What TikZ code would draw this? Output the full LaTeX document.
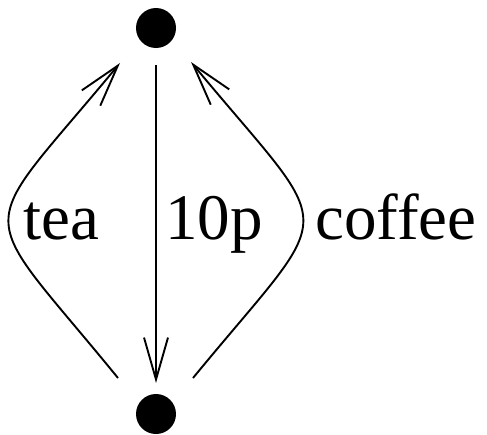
\documentclass[tikz,border=0pt]{standalone}
\usepackage{fontspec}
\setmainfont{Liberation Serif}
\usetikzlibrary{arrows.meta}
\begin{document}
\begin{tikzpicture}[x=1pt,y=-1pt,
  dot/.style={circle,fill=black,minimum size=40pt,inner sep=0pt},
  edge/.style={line width=1.9pt,-{Straight Barb[length=42pt,width=24pt,line width=1.9pt]}},
  lbl/.style={anchor=base west,inner sep=0pt,font=\fontsize{65}{72}\selectfont}]
\useasboundingbox (0,0) rectangle (487,434);
\node[dot] (top) at (156,28) {};
\node[dot] (bot) at (156,414) {};
\coordinate (mtop) at (156,65);
\coordinate (mbot) at (156,383);
\coordinate (lbot) at (118,378);
\coordinate (ltop) at (120,63);
\coordinate (rbot) at (193,378);
\coordinate (rtop) at (191,62);
\draw[edge] (mtop) -- (mbot);
\draw[edge] (lbot) .. controls (-28,199) and (-28,242) .. (ltop);
\draw[edge] (rbot) .. controls (340,199) and (340,242) .. (rtop);
\node[lbl] (tea) at (23,239) {tea};
\node[lbl] (tenp) at (165,239) {10p};
\node[lbl] (coffee) at (315,239) {coffee};
\end{tikzpicture}
\end{document}
